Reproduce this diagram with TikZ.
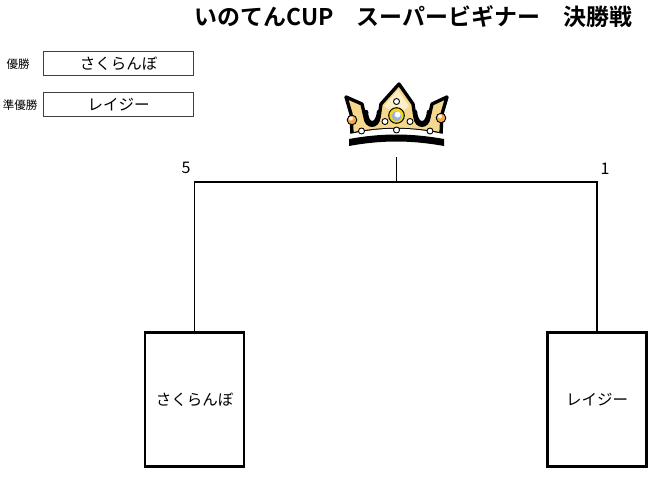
\documentclass[tikz,border=0pt]{standalone}
\usepackage{fontspec}
\newfontfamily\jp{Noto Sans CJK JP}
\newfontfamily\jpb{Noto Sans CJK JP Bold}
\begin{document}
\begin{tikzpicture}[x=1pt,y=-1pt,
  bigbox/.style={draw,line width=2.6pt,minimum width=99pt,minimum height=134pt,inner sep=0pt,font=\jp\fontsize{15.5}{15.5}\selectfont},
  smallbox/.style={draw=black!75,line width=0.9pt,minimum width=150pt,minimum height=24pt,inner sep=0pt,font=\jp\fontsize{15.5}{15.5}\selectfont},
  smalllabel/.style={inner sep=0pt,font=\jp\fontsize{11.5}{12}\selectfont},
  score/.style={inner sep=0pt,font=\jp\fontsize{16}{16}\selectfont},
  bracket/.style={line width=1.6pt},
  crownfill/.style={fill=crowngold,draw=black,line width=3.4pt,line join=round}]
\definecolor{crowngold}{HTML}{F4D88E}
\definecolor{crownlight}{HTML}{FBEFC8}
\definecolor{jewelorange}{HTML}{F2A54A}
\definecolor{jewelblue}{HTML}{8FB4E8}
\definecolor{jewelyellow}{HTML}{F2D31C}
\useasboundingbox (0,0) rectangle (650,482);
% title
\node[inner sep=0pt] (title) at (413.5,17) {\resizebox{437pt}{!}{\jpb\fontsize{23}{23}\selectfont いのてんCUP　スーパービギナー　決勝戦}};
% winner boxes
\node[smalllabel] (l1) at (18,64) {優勝};
\node[smallbox] (w1) at (118.5,63.5) {さくらんぼ};
\node[smalllabel] (l2) at (20,105) {準優勝};
\node[smallbox] (w2) at (118.5,104.5) {レイジー};
% crown
\path[crownfill] (346,97) -- (362,104) -- (365,117) .. controls (366,128) and (378,128) .. (379,117) -- (381,104) -- (399,84) -- (413,104) -- (415,117) .. controls (416,128) and (428,128) .. (429,117) -- (432,104) -- (447,97) -- (442,114) -- (441,134) .. controls (410,128) and (382,128) .. (352,134) -- (351,114) -- cycle;
\fill[crownlight] (384,106) -- (398,90) -- (409,106) -- (404,110) -- (390,110) -- cycle;
\draw[line width=4.5pt,line cap=round] (366,112) .. controls (366,127) and (378,127) .. (379,112);
\draw[line width=4.5pt,line cap=round] (415,112) .. controls (416,127) and (428,127) .. (429,112);
\fill[white] (350,134) .. controls (382,127) and (410,127) .. (443,134) -- (443,139) .. controls (410,134) and (382,134) .. (350,139) -- cycle;
\fill[black] (349,139) .. controls (382,133) and (410,133) .. (444,139) -- (444,146) .. controls (410,140) and (382,140) .. (349,146) -- cycle;
\draw[fill=jewelorange,line width=0.9pt] (352,120) circle (4.8);
\fill[white] (351,118.5) circle (2);
\draw[fill=jewelorange,line width=0.9pt] (441,118) circle (4.8);
\fill[white] (440,116.5) circle (2);
\draw[fill=jewelyellow,line width=1pt] (396.5,115.5) circle (7.8);
\fill[jewelblue] (396.5,116.2) circle (4.8);
\fill[white] (397.6,114.6) circle (3);
\foreach \p in {(396.5,101.5),(385,121.5),(410,121.5),(396.5,130),(361.5,131),(430,131)}
  \draw[fill=white,line width=0.9pt] \p circle (3);
% bracket
\coordinate (stemtop) at (396.5,157);
\coordinate (junction) at (396.5,182);
\node[bigbox] (lbox) at (194.5,399.5) {さくらんぼ};
\node[bigbox] (rbox) at (597,399.5) {レイジー};
\draw[bracket] (lbox.north) -- (lbox.north |- junction) -- (rbox.north |- junction) -- (rbox.north);
\draw[bracket] (stemtop) -- (junction);
\node[score] (s1) at (186,168) {5};
\node[score] (s2) at (605,169) {1};
\end{tikzpicture}
\end{document}
